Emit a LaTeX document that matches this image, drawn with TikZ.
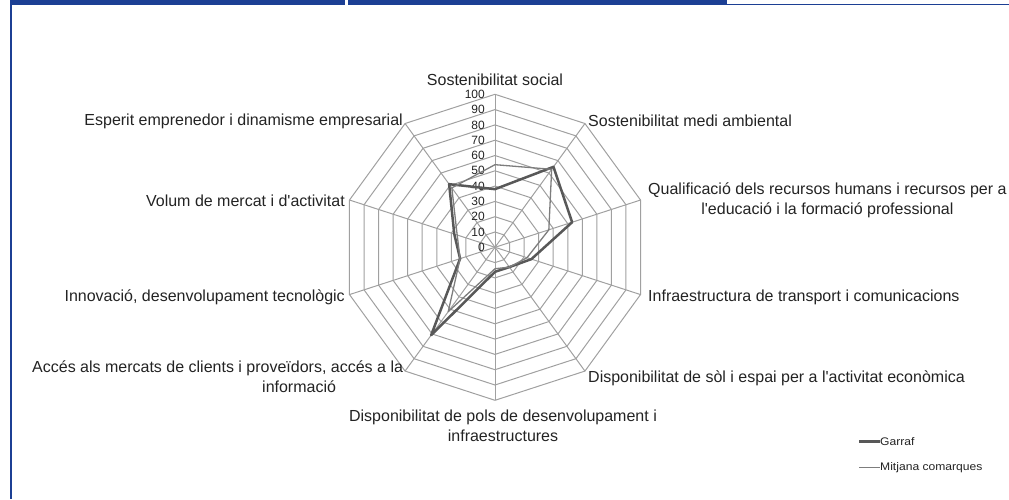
\documentclass[tikz,border=0pt]{standalone}
\usepackage{fontspec}
\setmainfont{Liberation Sans}
\usetikzlibrary{positioning}
\definecolor{framecolor}{RGB}{28,63,148}
\definecolor{gridcolor}{RGB}{160,160,160}
\definecolor{garrafcolor}{RGB}{88,88,88}
\definecolor{mitjanacolor}{RGB}{125,125,125}
\definecolor{labelcolor}{RGB}{35,35,35}

\begin{document}
\begin{tikzpicture}[x=1pt, y=1pt, every node/.style={font=\fontsize{16}{20}\selectfont, text=labelcolor, inner sep=0pt}]

\useasboundingbox (0,0) rectangle (1009,499);

% Frame
\fill[framecolor] (10,499) rectangle (345,494);
\fill[framecolor] (348,499) rectangle (727,494);
\draw[framecolor, line width=1.5pt] (727,494.5) -- (1009,494.5);
\draw[framecolor, line width=2pt] (11,499) -- (11,0);

% Grid (decagons every 10)
\begin{scope}[shift={(495,251.7)}]
\foreach \r in {10,20,...,100}
  \draw[gridcolor, line width=1pt] (90:{1.53*\r}) \foreach \a in {54,18,...,-234} { -- (\a:{1.53*\r}) } -- cycle;

% Spokes
\foreach \a in {90,54,...,-234}
  \draw[gridcolor, line width=1pt] (0,0) -- (\a:153);

% Scale labels
\foreach \r in {0,10,...,100}
  \node[anchor=east, font=\fontsize{12}{12}\selectfont] (tick\r) at (-10,{1.53*\r}) {\r};

% Garraf
\foreach \v [count=\i] in {38,65,53,25,16,16,71,24,28,51}
  \coordinate (g\i) at ({90-36*(\i-1)}:{1.53*\v});
\draw[garrafcolor, line width=2.5pt, line join=round] (g1) \foreach \i in {2,...,10} { -- (g\i) } -- cycle;

% Mitjana comarques
\foreach \v [count=\i] in {54,63,37,22,16,14,52,24,26,48}
  \coordinate (m\i) at ({90-36*(\i-1)}:{1.53*\v});
\draw[mitjanacolor, line width=1.3pt, line join=round] (m1) \foreach \i in {2,...,10} { -- (m\i) } -- cycle;
\end{scope}

% Axis labels
\node (social) at (495,419) {Sostenibilitat social};
\node[anchor=west] (medi) at (588,378) {Sostenibilitat medi ambiental};
\node[anchor=west, align=center] (qualif) at (648,299) {Qualificació dels recursos humans i recursos per a\\l\textquotesingle educació i la formació professional};
\node[anchor=west] (infra) at (648,202) {Infraestructura de transport i comunicacions};
\node[anchor=west] (sol) at (588,121) {Disponibilitat de sòl i espai per a l\textquotesingle activitat econòmica};
\node[align=center] (pols) at (503,73) {Disponibilitat de pols de desenvolupament i\\infraestructures};
\node[anchor=west, align=left] (acces) at (32,122) {Accés als mercats de clients i proveïdors, accés a la\\\hspace*{230pt}informació};
\node[anchor=east] (innov) at (345,202) {Innovació, desenvolupament tecnològic};
\node[anchor=east] (volum) at (345,298) {Volum de mercat i d\textquotesingle activitat};
\node[anchor=east] (esperit) at (403,378) {Esperit emprenedor i dinamisme empresarial};

% Legend
\coordinate (garrafA) at (859,57.3);
\coordinate (garrafB) at (880,57.3);
\coordinate (mitjanaA) at (859,31.3);
\coordinate (mitjanaB) at (880,31.3);
\draw[garrafcolor, line width=2.5pt] (garrafA) -- (garrafB);
\draw[mitjanacolor, line width=1.3pt] (mitjanaA) -- (mitjanaB);
\node[anchor=west, xscale=1.1, font=\fontsize{11}{11}\selectfont] (garraf) at (garrafB) {Garraf};
\node[anchor=west, xscale=1.1, font=\fontsize{11}{11}\selectfont] (mitjana) at (mitjanaB) {Mitjana comarques};

\end{tikzpicture}
\end{document}
